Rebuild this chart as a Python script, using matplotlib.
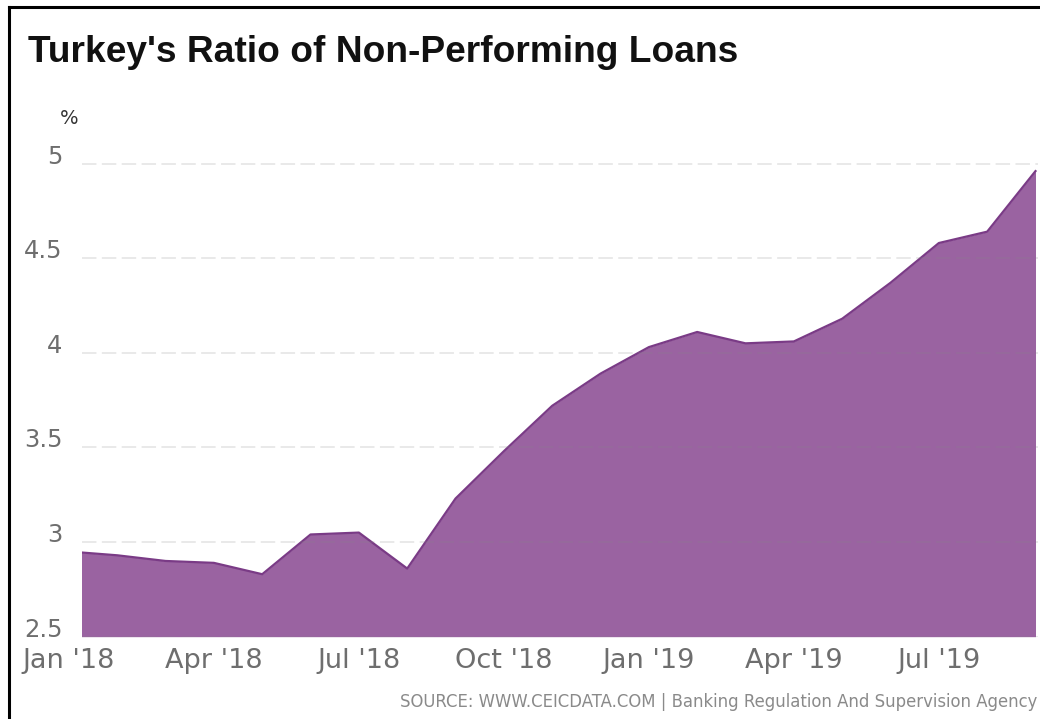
import matplotlib
matplotlib.use("Agg")
import matplotlib.pyplot as plt
from matplotlib.lines import Line2D
from matplotlib.transforms import blended_transform_factory

# monthly NPL ratio, Jan 2018 .. Sep 2019 (%)
months = ["Jan '18", "Feb '18", "Mar '18", "Apr '18", "May '18", "Jun '18",
          "Jul '18", "Aug '18", "Sep '18", "Oct '18", "Nov '18", "Dec '18",
          "Jan '19", "Feb '19", "Mar '19", "Apr '19", "May '19", "Jun '19",
          "Jul '19", "Aug '19", "Sep '19"]
npl = [2.95, 2.93, 2.90, 2.89, 2.83, 3.04, 3.05, 2.86, 3.23, 3.48, 3.72,
       3.89, 4.03, 4.11, 4.05, 4.06, 4.18, 4.37, 4.58, 4.64, 4.96]
label_months = ["Jan '18", "Apr '18", "Jul '18", "Oct '18", "Jan '19",
                "Apr '19", "Jul '19"]
y_ticks = [2.5, 3, 3.5, 4, 4.5, 5]
y_labels = ["2.5", "3", "3.5", "4", "4.5", "5"]

FILL = "#9a63a1"
EDGE = "#7a3b86"
TICK_GREY = "#6e6e6e"

fig = plt.figure(figsize=(10.4, 7.19), dpi=100)
ax = fig.add_axes([0.0788, 0.1145, 0.9192, 0.687])

x = list(range(len(months)))
ax.fill_between(x, npl, 2.5, color=FILL, lw=0, zorder=1)
ax.plot(x, npl, color=EDGE, lw=1.6, zorder=2)

# dashed grid, drawn over the area
for v in y_ticks:
    ax.axhline(v, color="#888888", alpha=0.2, lw=1.3, ls=(0, (8, 3)), zorder=3)

ax.set_xlim(0.27, 20.05)
ax.set_ylim(2.5, 5.11)
for s in ax.spines.values():
    s.set_visible(False)

ax.set_xticks([])
ax.set_yticks(y_ticks)
ax.set_yticklabels(y_labels, fontsize=17.5, color=TICK_GREY)
ax.tick_params(axis="y", length=0, pad=14)
for t in ax.get_yticklabels():
    t.set_va("baseline")

# x labels (Jan '18 sits left of the clipped plot area)
trans = blended_transform_factory(ax.transData, ax.transAxes)
for lab in label_months:
    ax.text(months.index(lab), -0.022, lab, transform=trans, ha="center",
            va="top", fontsize=19.5, color=TICK_GREY, clip_on=False)

fig.text(0.027, 0.9138, "Turkey's Ratio of Non-Performing Loans",
         fontsize=26.7, fontweight="bold", color="#111111", va="baseline",
         family=["Liberation Sans", "DejaVu Sans"])
fig.text(0.058, 0.8345, "%", fontsize=14, color="#333333", va="center")
fig.text(0.997, 0.0235, "SOURCE: WWW.CEICDATA.COM | Banking Regulation And Supervision Agency",
         fontsize=11.9, color="#8a8a8a", ha="right", va="center")

# frame on the left and top edges
fig.add_artist(Line2D([0.0087, 0.0087], [0, 0.9906], color="black", lw=2.2,
                      transform=fig.transFigure))
fig.add_artist(Line2D([0.0087, 1.0], [0.9906, 0.9906], color="black", lw=2.2,
                      transform=fig.transFigure))

fig.savefig("out.png", dpi=100)
